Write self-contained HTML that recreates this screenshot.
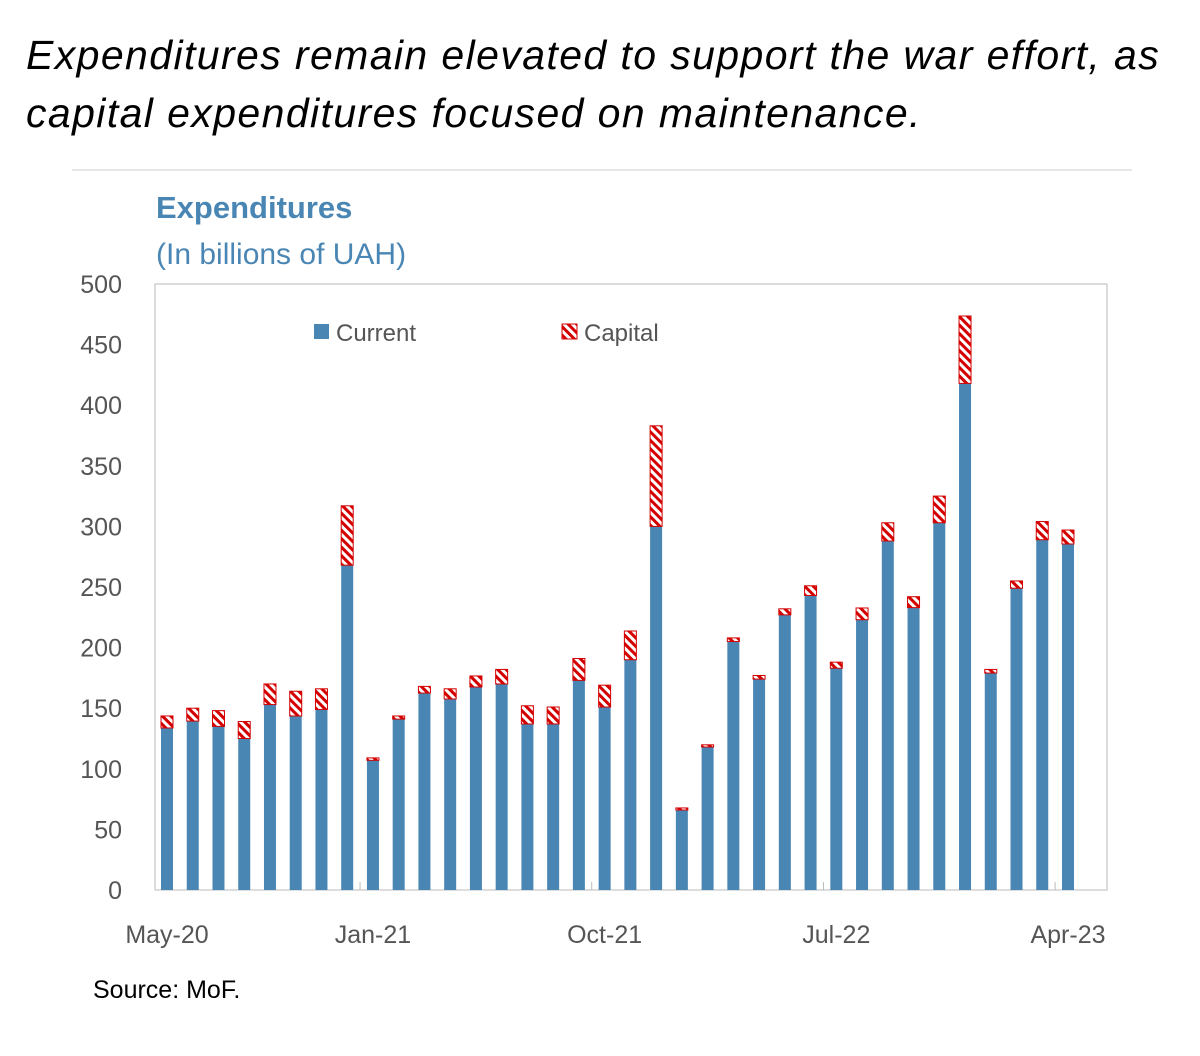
<!DOCTYPE html>
<html><head><meta charset="utf-8"><style>
body{margin:0;background:#fff;width:1200px;height:1056px;overflow:hidden;font-family:"Liberation Sans",sans-serif}
.title{position:absolute;left:26px;top:26px;font-size:41px;font-style:italic;line-height:58px;color:#000;letter-spacing:1.4px}
</style></head><body>
<div class="title">Expenditures remain elevated to support the war effort, as<br>capital expenditures focused on maintenance.</div>
<svg width="1200" height="1056" style="position:absolute;left:0;top:0">
<defs><pattern id="hatch" width="6" height="6" patternUnits="userSpaceOnUse" patternTransform="rotate(-45)"><rect width="6" height="6" fill="#d40000"/><rect width="3" height="6" fill="#fff"/></pattern></defs>
<line x1="72" y1="170" x2="1132" y2="170" stroke="#ccc"/>
<text x="156" y="218" font-size="31" font-weight="bold" fill="#4a86b4">Expenditures</text>
<text x="156" y="264" font-size="30" fill="#4a86b4">(In billions of UAH)</text>
<rect x="155" y="284" width="952" height="606" fill="none" stroke="#bbb"/>
<g id="yaxis"></g><g id="bars"></g><g id="xaxis"></g>
<g><rect x="314" y="324" width="15" height="15" fill="#4a86b4"/><text x="336" y="341" font-size="24" fill="#555">Current</text></g>
<g><rect x="562" y="324" width="15" height="15" fill="url(#hatch)" stroke="#d40000"/><text x="584" y="341" font-size="24" fill="#555">Capital</text></g>
<text x="93" y="998" font-size="25" fill="#000">Source: MoF.</text>
</svg>
<script>
const current=[133.7,139.4,135,125,153,143.6,149,268,107,141,162.5,157.6,167.5,170,137,137,173,151,190,300,66,118,205,174,227,243,183,223,288,233,303,418,179,249,289,285.5];
const total=[143.6,150,148,139,170,164,166,317,109,143.6,168,166,176.6,182,152,151,191,169,213.7,383,67.7,119.8,208,177,232,251,188,232.7,303,242,325,473.6,182,255,304,297];
const yTicks=[0,50,100,150,200,250,300,350,400,450,500];
const xLabels=[[0,"May-20"],[8,"Jan-21"],[17,"Oct-21"],[26,"Jul-22"],[35,"Apr-23"]];
const NS="http://www.w3.org/2000/svg";
const y=v=>890-v*606/500;
const x=i=>167+i*(1068-167)/35;
function mk(t,a,p){const e=document.createElementNS(NS,t);for(const k in a)e.setAttribute(k,a[k]);p.appendChild(e);return e;}
const ya=document.getElementById('yaxis');
yTicks.forEach(v=>{const t=mk('text',{x:122,y:y(v)+9,'font-size':25,fill:'#555','text-anchor':'end'},ya);t.textContent=v;

});
const bg=document.getElementById('bars');
current.forEach((c,i)=>{
const r=mk('rect',{x:x(i)-6,y:y(c),width:12,height:y(0)-y(c),fill:'#4a86b4'},bg);


const h=mk('rect',{x:x(i)-6,y:y(total[i]),width:12,height:y(c)-y(total[i]),fill:'url(#hatch)',stroke:'#d40000','stroke-width':1},bg);

});
const xa=document.getElementById('xaxis');
xLabels.forEach(([i,l])=>{const t=mk('text',{x:x(i),y:943,'font-size':25,fill:'#555','text-anchor':'middle'},xa);t.textContent=l;


if(i>0){const tk=mk('line',{x1:x(i)-12.9,x2:x(i)-12.9,y1:882,y2:890,stroke:'#bbb'},xa);

}});
</script>
</body></html>
